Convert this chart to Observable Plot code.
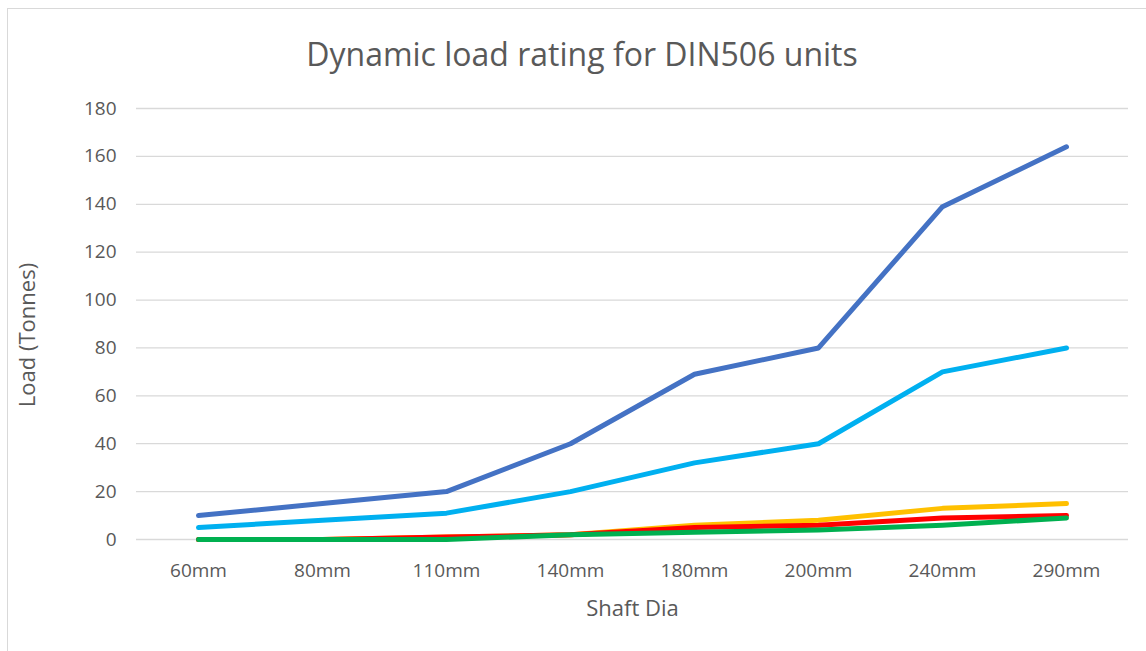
<!DOCTYPE html>
<html>
<head>
<meta charset="utf-8">
<script src="https://cdn.jsdelivr.net/npm/d3@7"></script>
<script src="https://cdn.jsdelivr.net/npm/@observablehq/plot@0.6"></script>
<style>
  html, body { margin: 0; padding: 0; background: #fff; }
  #wrap { position: relative; width: 1146px; height: 651px; overflow: hidden; }
  #frame { position: absolute; left: 7px; top: 8px; width: 1150px; height: 660px; border: 1px solid #d9d9d9; box-sizing: border-box; }
  #title { position: absolute; left: 0; top: 0; width: 1146px; height: 90px; text-align: center;
           font-family: "Open Sans", sans-serif; font-size: 32px; color: #595959; line-height: 108px; padding-left: 18px; box-sizing: border-box; }
  #chart { position: absolute; left: 0; top: 90px; }
  #chart svg { font-family: "Open Sans", sans-serif; }
</style>
</head>
<body>
<div id="wrap">
  <div id="frame"></div>
  <div id="title">Dynamic load rating for DIN506 units</div>
  <div id="chart"></div>
</div>
<script>
const shaftDia = ["60mm", "80mm", "110mm", "140mm", "180mm", "200mm", "240mm", "290mm"];
const seriesNames = ["S1", "S2", "S3", "S4", "S5"];
const s1 = [10, 15, 20, 40, 69, 80, 139, 164];
const s2 = [5, 8, 11, 20, 32, 40, 70, 80];
const s3 = [0, 0, 1, 2, 6, 8, 13, 15];
const s4 = [0, 0, 1, 2, 5, 6, 9, 10];
const s5 = [0, 0, 0, 2, 3, 4, 6, 9];
const seriesColors = ["#4472C4", "#00B0F0", "#FFC000", "#FF0000", "#00B050"];
const yTicks = [0, 20, 40, 60, 80, 100, 120, 140, 160, 180];

const allSeries = [s1, s2, s3, s4, s5];
const data = [];
allSeries.forEach((vals, i) => {
  vals.forEach((v, j) => data.push({series: seriesNames[i], dia: shaftDia[j], load: v}));
});

const chart = Plot.plot({
  width: 1146,
  height: 561,
  marginLeft: 136,
  marginRight: 18,
  marginTop: 18,
  marginBottom: 112,
  style: {fontSize: "19px", color: "#595959", background: "transparent"},
  x: {type: "point", domain: shaftDia, padding: 0.5, label: null},
  y: {domain: [0, 180], ticks: yTicks, label: null},
  color: {domain: seriesNames, range: seriesColors},
  marks: [
    Plot.gridY(yTicks, {stroke: "#d9d9d9", strokeOpacity: 1, strokeWidth: 1.3}),
    Plot.axisY(yTicks, {tickSize: 0, tickPadding: 20, fill: "#595959", fontSize: 19}),
    Plot.axisX(shaftDia, {tickSize: 0, tickPadding: 24, fill: "#595959", fontSize: 19}),
    Plot.text(["Shaft Dia"], {frameAnchor: "bottom", dy: 76, fill: "#595959", fontSize: 22}),
    Plot.text(["Load (Tonnes)"], {frameAnchor: "left", textAnchor: "middle", dx: -109, dy: 11, rotate: -90, fill: "#595959", fontSize: 22}),
    Plot.line(data, {x: "dia", y: "load", z: "series", stroke: "series", strokeWidth: 5, strokeLinecap: "round", strokeLinejoin: "round"})
  ]
});
document.getElementById("chart").appendChild(chart);
</script>
</body>
</html>
